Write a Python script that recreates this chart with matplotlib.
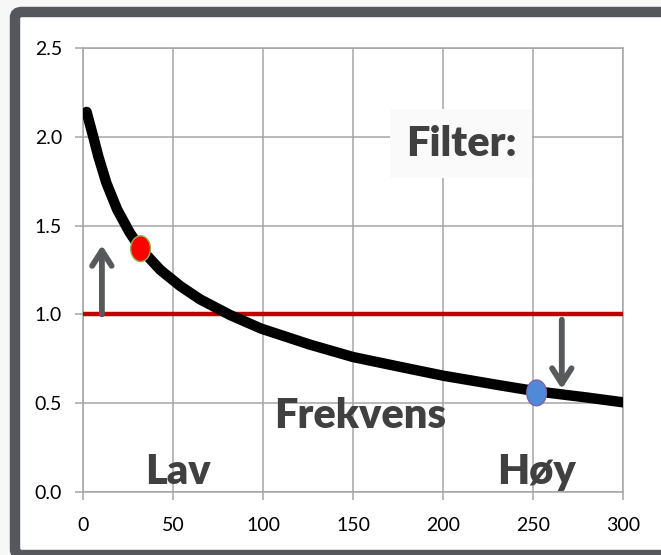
import matplotlib.pyplot as plt
from matplotlib.patches import Ellipse, FancyBboxPatch

# curve
freq = [2, 5.7, 8.5, 13, 19, 26, 32, 43, 54, 65, 82, 99, 126, 150, 176, 200, 232, 252, 280, 300]
gain = [2.14, 2.00, 1.89, 1.74, 1.59, 1.46, 1.37, 1.25, 1.16, 1.085, 0.995, 0.92, 0.83, 0.76,
        0.705, 0.655, 0.60, 0.567, 0.532, 0.505]

limit_x = [0, 300]
limit_y = [1.0, 1.0]

low_pt = (32, 1.37)
high_pt = (252, 0.558)

up_arrow = ((10.5, 1.0), (10.5, 1.39))
down_arrow = ((266, 0.97), (266, 0.58))

xticks = [0, 50, 100, 150, 200, 250, 300]
yticks = [0.0, 0.5, 1.0, 1.5, 2.0, 2.5]

plt.rcParams['font.family'] = ['Lato', 'DejaVu Sans']

fig = plt.figure(figsize=(6.61, 5.55), dpi=100)
fig.patch.set_facecolor('#f7f7f7')

# dark frame around the chart
frame = FancyBboxPatch((15 / 661, 0), 700 / 661, 543 / 555,
                       boxstyle='round,pad=0,rounding_size=0.01',
                       transform=fig.transFigure, facecolor='white',
                       edgecolor='#55575c', linewidth=7.5, zorder=-10)
fig.patches.append(frame)

ax = fig.add_axes([83 / 661, 63 / 555, 540 / 661, 444 / 555])
ax.set_facecolor('white')

grid_c = '#a6a6a6'
ax.set_xlim(0, 300)
ax.set_ylim(0, 2.5)
ax.set_xticks(xticks)
ax.set_yticks(yticks)
ax.set_yticklabels(['%.1f' % v for v in yticks])
ax.grid(True, color=grid_c, linewidth=1.1)
ax.set_axisbelow(True)
for s in ax.spines.values():
    s.set_color(grid_c)
    s.set_linewidth(1.1)
ax.tick_params(axis='both', colors=grid_c, labelcolor='black', labelsize=14,
               length=6, width=1.1)
ax.tick_params(axis='x', pad=12)
ax.tick_params(axis='y', pad=9)

ax.plot(limit_x, limit_y, color='#c00000', linewidth=3.2, zorder=3)
ax.plot(freq, gain, color='black', linewidth=7.5, solid_capstyle='round',
        solid_joinstyle='round', zorder=4)

ax.add_patch(Ellipse(low_pt, 11, 0.145, facecolor='#ff0000', edgecolor='#8fb34a',
                     linewidth=1, zorder=5))
ax.add_patch(Ellipse(high_pt, 11, 0.145, facecolor='#4f8ad8', edgecolor='#8064a2',
                     linewidth=1, zorder=5))

for (x0, y0), (x1, y1) in [up_arrow, down_arrow]:
    ax.annotate('', xy=(x1, y1), xytext=(x0, y0),
                arrowprops=dict(arrowstyle='->,head_length=0.55,head_width=0.35',
                                mutation_scale=20, color='#58595b', linewidth=4.2,
                                shrinkA=0, shrinkB=0),
                zorder=6)

txt = dict(fontsize=30, fontweight='heavy', color='#404040', ha='center', va='center', zorder=7)
ax.text(210, 1.96, 'Filter:', bbox=dict(facecolor='#fafafa', edgecolor='none', pad=11), **txt)
ax.text(154, 0.43, 'Frekvens', **txt)
ax.text(53, 0.11, 'Lav', **txt)
ax.text(252, 0.11, 'Høy', **txt)

fig.savefig('out.png', dpi=100, facecolor=fig.get_facecolor())
